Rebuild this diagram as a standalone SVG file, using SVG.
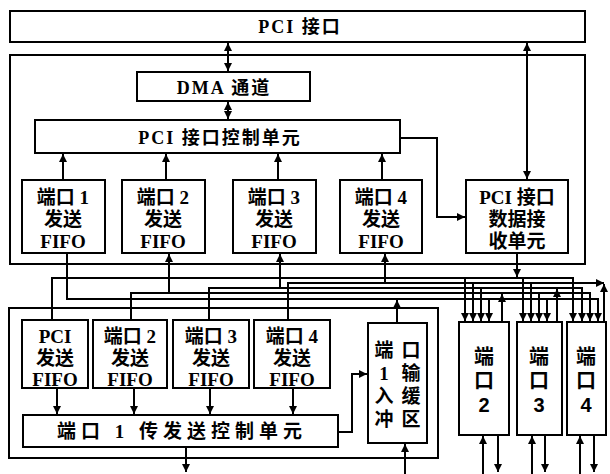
<svg xmlns="http://www.w3.org/2000/svg" width="610" height="474" viewBox="0 0 610 474">
<defs>
<marker id="ah" viewBox="0 0 10 10" refX="10" refY="5" markerWidth="8" markerHeight="8" orient="auto-start-reverse" markerUnits="userSpaceOnUse">
<path d="M0,0 L10,5 L0,10 z" fill="#000"/>
</marker>
</defs>
<style>
.box{fill:#fff;stroke:#000;stroke-width:2}
.frame{fill:none;stroke:#000;stroke-width:2}
.ln{fill:none;stroke:#000;stroke-width:2}
.a{marker-end:url(#ah)}
.aa{marker-start:url(#ah);marker-end:url(#ah)}
text{font-family:"Liberation Serif","Noto Sans CJK SC",serif;font-weight:bold;font-size:19px;text-anchor:middle;fill:#000}
.t18{font-size:18px;letter-spacing:2px}
.sans{font-family:"Liberation Sans","Noto Sans CJK SC",sans-serif;font-size:20px}
</style>

<g id="pci_interface">
<rect class="box" x="10" y="11" width="575" height="31"/>
<text class="t18" x="300" y="33">PCI 接口</text>
</g>

<g id="pci_block">
<rect class="frame" x="10" y="55" width="575" height="209"/>
</g>

<g id="dma">
<rect class="box" x="137" y="72" width="173" height="29"/>
<text class="t18" x="224" y="94">DMA 通道</text>
</g>

<g id="pci_ctrl">
<rect class="box" x="35" y="120" width="365" height="33"/>
<text class="t18" x="220" y="144" letter-spacing="3">PCI 接口控制单元</text>
</g>

<g id="up_fifo1">
<rect class="box" x="22" y="180" width="83" height="73"/>
<text x="63" y="204">端口 1</text><text x="63" y="226">发送</text><text x="63" y="248">FIFO</text>
</g>
<g id="up_fifo2">
<rect class="box" x="122" y="180" width="83" height="73"/>
<text x="163" y="204">端口 2</text><text x="163" y="226">发送</text><text x="163" y="248">FIFO</text>
</g>
<g id="up_fifo3">
<rect class="box" x="233" y="180" width="83" height="73"/>
<text x="274" y="204">端口 3</text><text x="274" y="226">发送</text><text x="274" y="248">FIFO</text>
</g>
<g id="up_fifo4">
<rect class="box" x="340" y="180" width="82" height="73"/>
<text x="381" y="204">端口 4</text><text x="381" y="226">发送</text><text x="381" y="248">FIFO</text>
</g>
<g id="pci_recv">
<rect class="box" x="466" y="180" width="102" height="73"/>
<text x="517" y="204">PCI 接口</text><text x="517" y="226">数据接</text><text x="517" y="248">收单元</text>
</g>

<g id="port1_block">
<rect class="frame" x="9" y="308" width="429" height="150"/>
</g>

<g id="low_fifo_pci">
<rect class="box" x="22" y="320" width="66" height="68"/>
<text x="55" y="343">PCI</text><text x="55" y="365">发送</text><text x="55" y="386">FIFO</text>
</g>
<g id="low_fifo2">
<rect class="box" x="93" y="320" width="74" height="68"/>
<text x="130" y="343">端口 2</text><text x="130" y="365">发送</text><text x="130" y="386">FIFO</text>
</g>
<g id="low_fifo3">
<rect class="box" x="173" y="320" width="76" height="68"/>
<text x="211" y="343">端口 3</text><text x="211" y="365">发送</text><text x="211" y="386">FIFO</text>
</g>
<g id="low_fifo4">
<rect class="box" x="254" y="320" width="76" height="68"/>
<text x="292" y="343">端口 4</text><text x="292" y="365">发送</text><text x="292" y="386">FIFO</text>
</g>
<g id="port1_ctrl">
<rect class="box" x="23" y="415" width="315" height="32"/>
<text x="182" y="438" letter-spacing="5">端口 1 传发送控制单元</text>
</g>
<g id="port1_buf">
<rect class="box" x="368" y="323" width="59" height="120"/>
<text x="384" y="357">端</text><text x="411" y="357">口</text>
<text x="384" y="380">1</text><text x="411" y="380">输</text>
<text x="384" y="403">入</text><text x="411" y="403">缓</text>
<text x="384" y="426">冲</text><text x="411" y="426">区</text>
</g>

<g id="port2">
<rect class="box" x="459" y="322" width="50" height="113"/>
<text class="sans" x="484" y="364">端</text><text class="sans" x="484" y="388">口</text><text class="sans" x="484" y="412">2</text>
</g>
<g id="port3">
<rect class="box" x="517" y="322" width="45" height="113"/>
<text class="sans" x="539" y="364">端</text><text class="sans" x="539" y="388">口</text><text class="sans" x="539" y="412">3</text>
</g>
<g id="port4">
<rect class="box" x="567" y="322" width="39" height="113"/>
<text class="sans" x="586" y="364">端</text><text class="sans" x="586" y="388">口</text><text class="sans" x="586" y="412">4</text>
</g>

<g id="connectors">
<line class="ln aa" x1="228" y1="43" x2="228" y2="71"/>
<line class="ln aa" x1="228" y1="102" x2="228" y2="119"/>
<line class="ln aa" x1="527" y1="43" x2="527" y2="179"/>
<polyline class="ln a" points="400,138 437,138 437,217 465,217"/>
<line class="ln a" x1="63" y1="180" x2="63" y2="154"/>
<line class="ln a" x1="166" y1="180" x2="166" y2="154"/>
<line class="ln a" x1="278" y1="180" x2="278" y2="154"/>
<line class="ln a" x1="382" y1="180" x2="382" y2="154"/>

<line class="ln a" x1="517" y1="253" x2="517" y2="277"/>
<polyline class="ln a" points="52,319 52,278 573,278 573,321"/>
<line class="ln a" x1="465" y1="278" x2="465" y2="321"/>
<line class="ln a" x1="523" y1="278" x2="523" y2="321"/>

<polyline class="ln a" points="288,319 288,283 604,283"/>
<line class="ln a" x1="604" y1="322" x2="604" y2="284"/>
<line class="ln a" x1="385" y1="283" x2="385" y2="254"/>
<line class="ln a" x1="473" y1="283" x2="473" y2="321"/>
<line class="ln a" x1="531" y1="283" x2="531" y2="321"/>

<polyline class="ln a" points="209,319 209,288 582,288 582,321"/>
<line class="ln a" x1="280" y1="288" x2="280" y2="254"/>
<line class="ln a" x1="481" y1="288" x2="481" y2="321"/>
<line class="ln a" x1="557" y1="322" x2="557" y2="289"/>

<polyline class="ln a" points="131,319 131,293 590,293 590,321"/>
<line class="ln a" x1="169" y1="293" x2="169" y2="254"/>
<line class="ln a" x1="502" y1="322" x2="502" y2="294"/>
<line class="ln a" x1="539" y1="293" x2="539" y2="321"/>

<polyline class="ln a" points="67,254 67,299 598,299 598,321"/>
<line class="ln a" x1="397" y1="323" x2="397" y2="300"/>
<line class="ln a" x1="489" y1="299" x2="489" y2="321"/>
<line class="ln a" x1="547" y1="299" x2="547" y2="321"/>

<line class="ln a" x1="57" y1="388" x2="57" y2="414"/>
<line class="ln a" x1="134" y1="388" x2="134" y2="414"/>
<line class="ln a" x1="210" y1="388" x2="210" y2="414"/>
<line class="ln a" x1="293" y1="388" x2="293" y2="414"/>
<polyline class="ln a" points="338,432 352,432 352,374 367,374"/>
<line class="ln a" x1="186" y1="447" x2="186" y2="472"/>
<line class="ln a" x1="405" y1="474" x2="405" y2="444"/>

<line class="ln a" x1="483" y1="474" x2="483" y2="436"/>
<line class="ln a" x1="498" y1="435" x2="498" y2="472"/>
<line class="ln a" x1="532" y1="474" x2="532" y2="436"/>
<line class="ln a" x1="545" y1="435" x2="545" y2="472"/>
<line class="ln a" x1="580" y1="474" x2="580" y2="436"/>
<line class="ln a" x1="594" y1="435" x2="594" y2="472"/>
</g>
</svg>
